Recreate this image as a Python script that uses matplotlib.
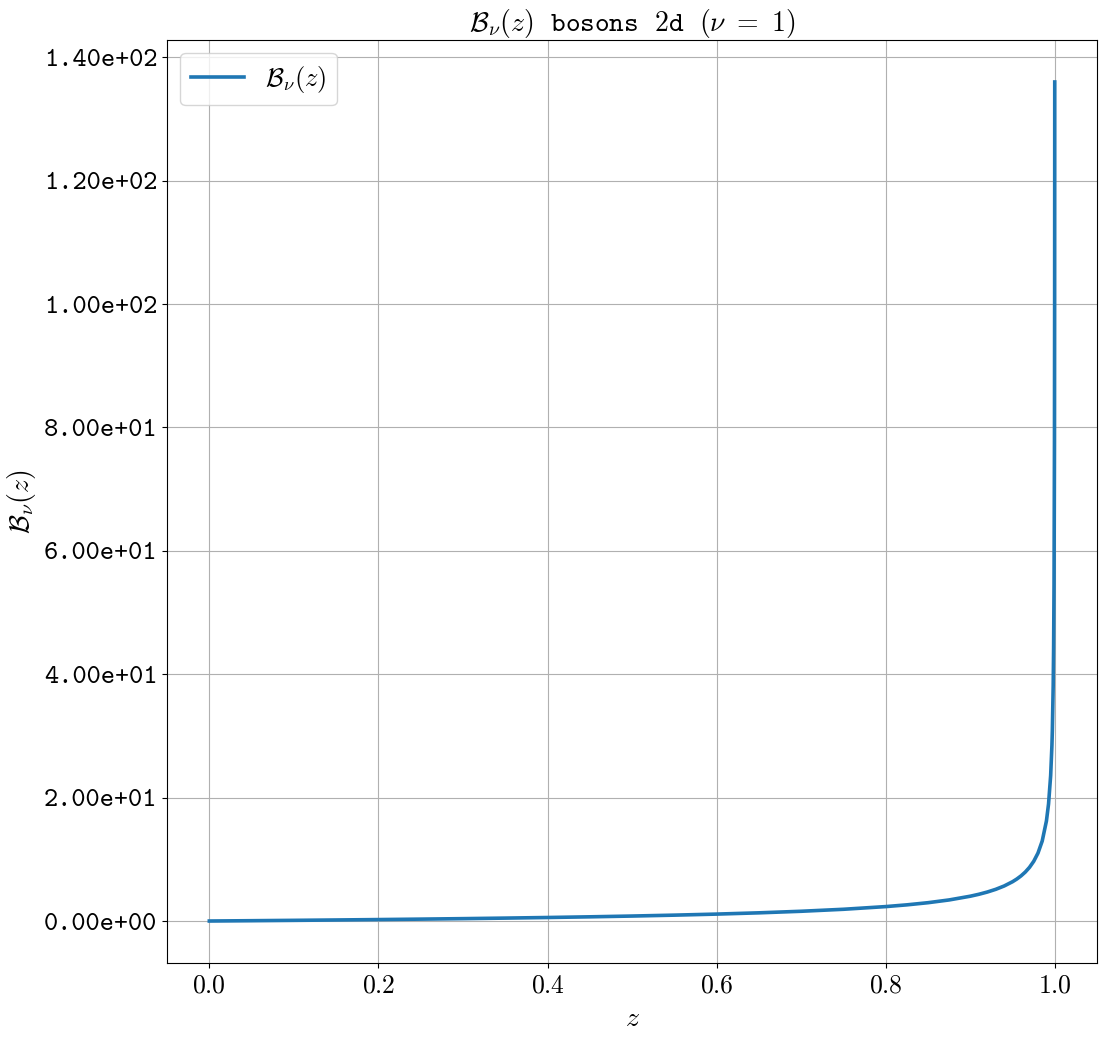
import os
import numpy as np
import matplotlib
matplotlib.use("Agg")
import matplotlib.pyplot as plt
from matplotlib.font_manager import FontProperties
from matplotlib.ticker import FuncFormatter

plt.rcParams['mathtext.fontset'] = 'cm'

# values (z, B_nu(z))
z_vals = [0.0, 0.05, 0.1, 0.15, 0.2, 0.25, 0.3, 0.35, 0.4, 0.45, 0.5, 0.55,
          0.6, 0.65, 0.7, 0.75, 0.8, 0.825, 0.85, 0.875, 0.9, 0.91, 0.92,
          0.93, 0.94, 0.95, 0.955, 0.96, 0.965, 0.97, 0.975, 0.98, 0.985,
          0.99, 0.9925, 0.995, 0.9965, 0.997, 0.998, 0.9985, 0.999, 0.9995,
          0.9997, 0.9998, 0.99983]
b_vals = [0.0, 0.052, 0.108, 0.168, 0.234, 0.306, 0.385, 0.472, 0.570, 0.680,
          0.806, 0.952, 1.122, 1.327, 1.580, 1.903, 2.338, 2.621, 2.970, 3.418,
          4.022, 4.331, 4.695, 5.134, 5.678, 6.376, 6.81, 7.321, 7.937, 8.702,
          9.684, 11.01, 12.96, 16.22, 18.97, 23.58, 28.47, 30.88, 38.15, 44.29,
          54.58, 77.80, 100.9, 123.9, 136.0]

y_ticks = [0, 20, 40, 60, 80, 100, 120, 140]

tt = FontProperties(fname=os.path.join(matplotlib.get_data_path(), 'fonts', 'ttf', 'cmtt10.ttf'),
                    size=19.5)

fig = plt.figure(figsize=(11.1, 10.45), dpi=100)
ax = fig.add_axes([0.1505, 0.0785, 0.8378, 0.8832])

ax.plot(z_vals, b_vals, color='tab:blue', linewidth=2.6, label=r'$\mathcal{B}_\nu(z)$')

ax.set_yticks(y_ticks)
ax.set_yticklabels(['%.2e' % v for v in y_ticks], fontproperties=tt)
ax.xaxis.set_major_formatter(FuncFormatter(lambda v, p: '$%.1f$' % v))
ax.tick_params(axis='x', labelsize=18.5)

ax.set_xlabel(r'$z$', fontsize=20)
ax.set_ylabel(r'$\mathcal{B}_\nu(z)$', fontsize=20)
ax.set_title(r'$\mathcal{B}_\nu(z)\ \ \mathtt{bosons\ \ 2d}\ \ (\nu\ =\ 1)$', fontsize=20)
ax.grid(True)
ax.legend(loc='upper left', fontsize=19)

fig.savefig('out.png', dpi=100)
